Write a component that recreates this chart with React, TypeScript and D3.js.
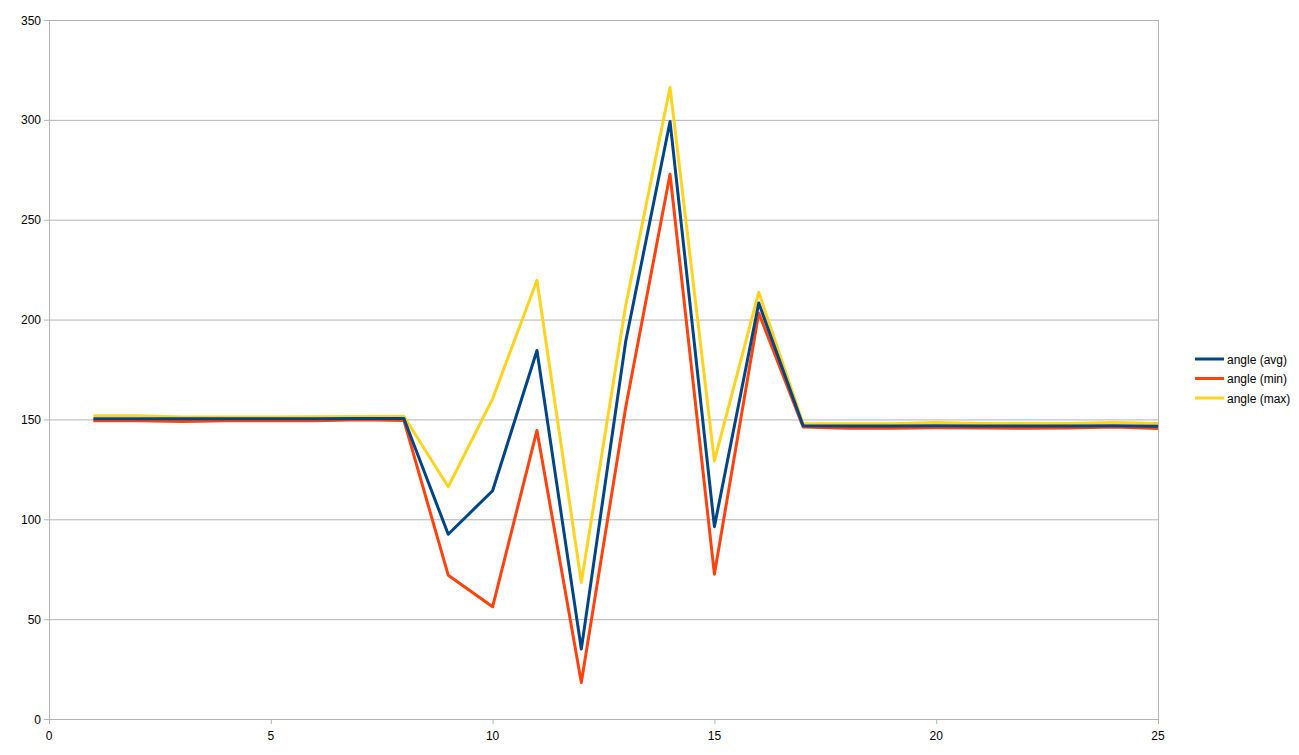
import React from "react";
import * as d3 from "d3";

const xValues = [1, 2, 3, 4, 5, 6, 7, 8, 9, 10, 11, 12, 13, 14, 15, 16, 17, 18, 19, 20, 21, 22, 23, 24, 25];
const angleAvg = [150.4, 150.4, 150.3, 150.3, 150.3, 150.4, 150.5, 150.5, 92.5, 114.3, 184.5, 35, 189, 299.2, 96.3, 208.3, 146.8, 146.7, 146.7, 146.8, 146.7, 146.7, 146.7, 146.8, 146.6];
const angleMin = [149.3, 149.3, 149, 149.3, 149.3, 149.3, 149.8, 149.5, 72, 56.2, 144.5, 18.3, 156, 272.8, 72.5, 203.3, 146.2, 145.6, 145.6, 145.8, 145.7, 145.6, 145.7, 146.2, 145.4];
const angleMax = [151.8, 151.8, 151.2, 151.2, 151.2, 151.4, 151.5, 151.6, 116.3, 160.3, 219.7, 68.3, 207, 316.3, 129.2, 213.7, 147.8, 147.8, 147.8, 148.5, 148, 148, 148, 148.5, 148];
const yTicks = [0, 50, 100, 150, 200, 250, 300, 350];
const xTicks = [0, 5, 10, 15, 20, 25];
const seriesNames = ["angle (avg)", "angle (min)", "angle (max)"];
const seriesColors = ["#004586", "#ff420e", "#ffd320"];

export default function App() {
  const width = 1299;
  const height = 755;
  const left = 49;
  const right = 1158;
  const top = 20;
  const bottom = 719;
  const x = d3.scaleLinear().domain([0, 25]).range([left, right]);
  const y = d3.scaleLinear().domain([0, 350]).range([bottom, top]);
  const line = d3
    .line<number>()
    .x((_, i) => x(xValues[i]))
    .y((d) => y(d));
  const series = [angleAvg, angleMin, angleMax];
  const drawOrder = [2, 1, 0];
  const font = "'Liberation Sans', Arial, sans-serif";
  return (
    <svg
      width={width}
      height={height}
      style={{ position: "absolute", left: 0, top: 0, background: "#fff" }}
      fontFamily={font}
    >
      {yTicks.map((t) => (
        <g key={"y" + t}>
          <line x1={left - 5} x2={right} y1={y(t) + 0.5} y2={y(t) + 0.5} stroke="#b3b3b3" strokeWidth={1} />
          <text x={41} y={y(t) + 4.5} fontSize={12} textAnchor="end" fill="#000">
            {t}
          </text>
        </g>
      ))}
      <line x1={left + 0.5} x2={left + 0.5} y1={top} y2={bottom + 5} stroke="#b3b3b3" strokeWidth={1} />
      <line x1={right + 0.5} x2={right + 0.5} y1={top} y2={bottom + 5} stroke="#b3b3b3" strokeWidth={1} />
      {xTicks.map((t) => (
        <g key={"x" + t}>
          <line x1={x(t) + 0.5} x2={x(t) + 0.5} y1={bottom} y2={bottom + 5} stroke="#b3b3b3" strokeWidth={1} />
          <text x={x(t)} y={740} fontSize={12} textAnchor="middle" fill="#000">
            {t}
          </text>
        </g>
      ))}
      {drawOrder.map((si) => (
        <path
          key={"s" + si}
          d={line(series[si]) || ""}
          fill="none"
          stroke={seriesColors[si]}
          strokeWidth={3}
          strokeLinejoin="round"
        />
      ))}
      {seriesNames.map((n, i) => (
        <g key={"l" + i}>
          <line x1={1195} x2={1224} y1={359 + i * 19.5} y2={359 + i * 19.5} stroke={seriesColors[i]} strokeWidth={3} />
          <text x={1227} y={363.5 + i * 19.5} fontSize={12} fill="#000">
            {n}
          </text>
        </g>
      ))}
    </svg>
  );
}
